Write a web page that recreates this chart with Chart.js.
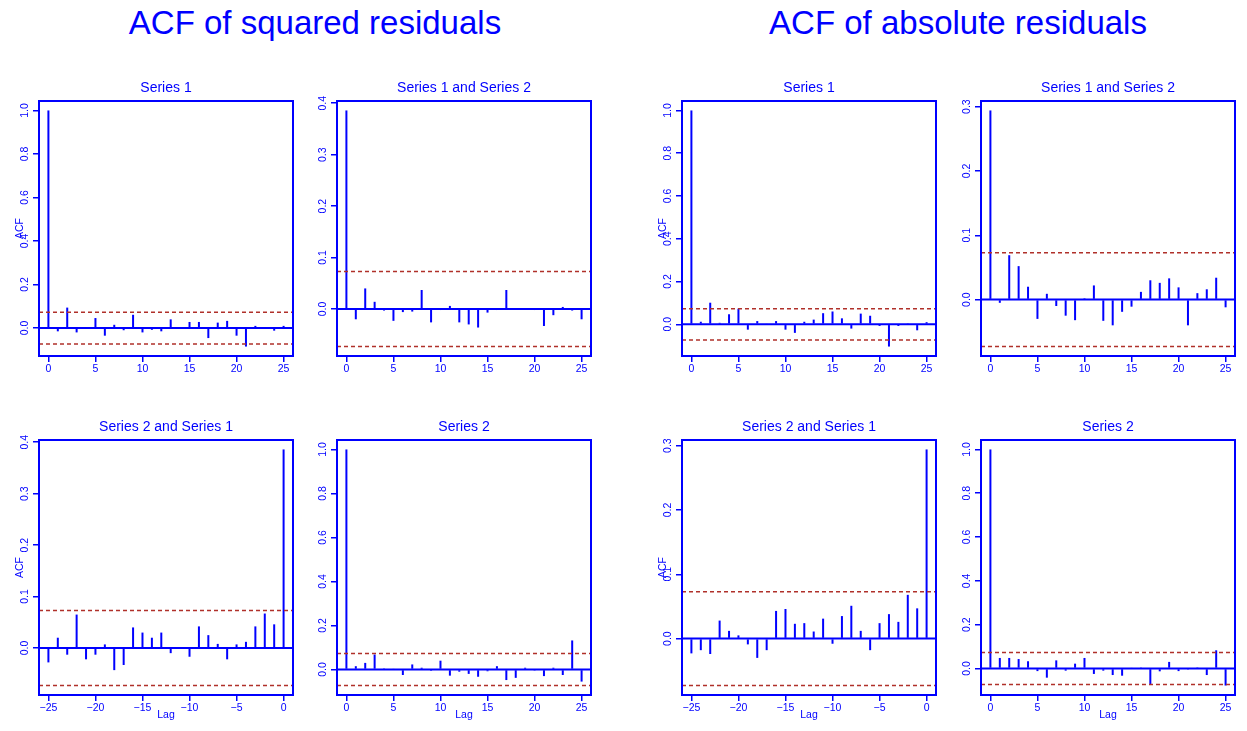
<!DOCTYPE html>
<html>
<head>
<meta charset="utf-8">
<script src="https://cdn.jsdelivr.net/npm/chart.js@4.4.1/dist/chart.umd.min.js"></script>
<style>
body { margin: 0; background: #fff; width: 1247px; height: 731px; position: relative; overflow: hidden; font-family: "Liberation Sans", Arial, sans-serif; }
.main { position: absolute; top: 6px; width: 560px; text-align: center; color: #0000ff; font-size: 33px; line-height: 33px; }
canvas { position: absolute; }
</style>
</head>
<body>
<div class="main" style="left:35px">ACF of squared residuals</div>
<div class="main" style="left:678px">ACF of absolute residuals</div>
<script>
// lags shown on the x axes
const lagsPos = [0, 1, 2, 3, 4, 5, 6, 7, 8, 9, 10, 11, 12, 13, 14, 15, 16, 17, 18, 19, 20, 21, 22, 23, 24, 25];
const lagsNeg = [-25, -24, -23, -22, -21, -20, -19, -18, -17, -16, -15, -14, -13, -12, -11, -10, -9, -8, -7, -6, -5, -4, -3, -2, -1, 0];

// ACF of squared residuals
const sqS1 = [1.0, -0.015, 0.094, -0.02, 0.003, 0.046, -0.035, 0.015, -0.01, 0.061, -0.02, -0.008, -0.015, 0.04, 0.005, 0.028, 0.028, -0.046, 0.025, 0.033, -0.035, -0.085, 0.01, 0.002, -0.012, 0.01];
const sqS1S2 = [0.386, -0.02, 0.04, 0.014, -0.003, -0.023, -0.006, -0.005, 0.037, -0.026, -0.002, 0.006, -0.026, -0.03, -0.036, -0.007, -0.002, 0.037, 0.002, 0.001, -0.002, -0.033, -0.012, 0.004, -0.003, -0.02];
const sqS2S1 = [-0.028, 0.02, -0.013, 0.065, -0.022, -0.013, 0.007, -0.043, -0.033, 0.04, 0.03, 0.02, 0.03, -0.01, 0.001, -0.017, 0.042, 0.025, 0.008, -0.022, 0.007, 0.012, 0.042, 0.067, 0.046, 0.386];
const sqS2 = [1.0, 0.015, 0.03, 0.068, 0.005, 0.003, -0.025, 0.023, 0.008, -0.006, 0.04, -0.028, -0.01, -0.02, -0.033, -0.008, 0.015, -0.048, -0.038, 0.008, -0.005, -0.03, 0.008, -0.025, 0.132, -0.055];

// ACF of absolute residuals
const absS1 = [1.0, 0.012, 0.101, 0.007, 0.047, 0.073, -0.025, 0.015, 0.003, 0.015, -0.025, -0.04, 0.012, 0.022, 0.052, 0.06, 0.028, -0.02, 0.05, 0.04, -0.008, -0.104, -0.008, 0.005, -0.028, 0.01];
const absS1S2 = [0.294, -0.005, 0.069, 0.052, 0.02, -0.03, 0.009, -0.01, -0.025, -0.032, 0.002, 0.022, -0.033, -0.04, -0.019, -0.011, 0.012, 0.03, 0.026, 0.033, 0.019, -0.04, 0.01, 0.016, 0.034, -0.012];
const absS2S1 = [-0.023, -0.018, -0.024, 0.028, 0.012, 0.005, -0.009, -0.03, -0.018, 0.043, 0.046, 0.023, 0.024, 0.011, 0.031, -0.008, 0.035, 0.051, 0.012, -0.018, 0.024, 0.038, 0.026, 0.068, 0.047, 0.294];
const absS2 = [1.0, 0.048, 0.048, 0.043, 0.033, -0.012, -0.042, 0.037, -0.01, 0.022, 0.048, -0.025, -0.01, -0.03, -0.033, 0.003, 0.002, -0.073, -0.013, 0.03, -0.012, -0.005, 0.005, -0.03, 0.083, -0.078];

// tick labels
const xTicksPos = [0, 5, 10, 15, 20, 25];
const xTicksNeg = [-25, -20, -15, -10, -5, 0];
const yTicksFull = [0, 0.2, 0.4, 0.6, 0.8, 1.0];
const yTicks04 = [0, 0.1, 0.2, 0.3, 0.4];
const yTicks03 = [0, 0.1, 0.2, 0.3];

// dashed significance bounds
const confLimit = 0.073;

const blue = "#0000ff";
const ciRed = "#b0302a";
const fontFam = '"Liberation Sans", Arial, sans-serif';

// box around the plotting region, like R's box()
const frame = {
    id: "frame",
    afterDatasetsDraw(chart) {
        const { ctx, chartArea: a } = chart;
        ctx.save();
        ctx.strokeStyle = blue;
        ctx.lineWidth = 2;
        ctx.strokeRect(a.left, a.top, a.right - a.left, a.bottom - a.top);
        ctx.restore();
    }
};

function drawPanel(boxLeft, boxTop, title, lags, values, yTicks, xTicks, showYLab, showXLab) {
    const canvas = document.createElement("canvas");
    canvas.width = 304;
    canvas.height = 315;
    canvas.style.left = (boxLeft - 40) + "px";
    canvas.style.top = (boxTop - 30) + "px";
    document.body.appendChild(canvas);

    // axis limits the way R pads them (4%)
    const lo = Math.min(...lags), hi = Math.max(...lags);
    const xMin = lo - (hi - lo) * 0.04, xMax = hi + (hi - lo) * 0.04;
    const yLo = Math.min(-confLimit, ...values), yHi = Math.max(confLimit, ...values);
    const yPad = (yHi - yLo) * 0.04;
    const refLine = (y) => [{ x: xMin, y: y }, { x: xMax, y: y }];

    const gridOpts = { display: true, drawOnChartArea: false, drawTicks: true, offset: false, tickLength: 6, color: blue, lineWidth: 1.5 };
    const tickFont = { family: fontFam, size: 10.5 };

    new Chart(canvas, {
        type: "bar",
        data: {
            datasets: [{
                type: "bar",
                data: lags.map((l, i) => ({ x: l, y: values[i] })),
                backgroundColor: blue,
                barThickness: 2,
                inflateAmount: 0,
                order: 3
            }, {
                type: "line",
                data: refLine(0),
                borderColor: blue,
                borderWidth: 2,
                pointRadius: 0,
                order: 2
            }, {
                type: "line",
                data: refLine(confLimit),
                borderColor: ciRed,
                borderWidth: 1.5,
                borderDash: [4, 3],
                pointRadius: 0,
                order: 1
            }, {
                type: "line",
                data: refLine(-confLimit),
                borderColor: ciRed,
                borderWidth: 1.5,
                borderDash: [4, 3],
                pointRadius: 0,
                order: 1
            }]
        },
        options: {
            responsive: false,
            animation: false,
            events: [],
            layout: { padding: { left: 0, right: 10, top: 0, bottom: 0 } },
            plugins: {
                legend: { display: false },
                tooltip: { enabled: false },
                title: {
                    display: true, text: title, color: blue, fullSize: false,
                    font: { family: fontFam, size: 14, weight: "normal" },
                    padding: { top: 8.6, bottom: 4.6 }
                }
            },
            scales: {
                x: {
                    type: "linear", bounds: "data", min: xMin, max: xMax, offset: false,
                    afterBuildTicks: s => { s.ticks = xTicks.map(v => ({ value: v })); },
                    afterFit: s => { s.height = 30; },
                    grid: gridOpts,
                    border: { display: false },
                    ticks: {
                        color: blue, font: tickFont, padding: 1,
                        maxRotation: 0, autoSkip: false,
                        callback: v => String(v).replace("-", "\u2212")
                    },
                    title: { display: showXLab, text: "Lag", color: blue, font: { family: fontFam, size: 10.5 }, padding: { top: 0, bottom: 4 } }
                },
                y: {
                    type: "linear", bounds: "data", min: yLo - yPad, max: yHi + yPad,
                    afterBuildTicks: s => { s.ticks = yTicks.map(v => ({ value: v })); },
                    afterFit: s => { s.width = 40; },
                    grid: gridOpts,
                    border: { display: false },
                    ticks: {
                        color: blue, font: tickFont, padding: 1,
                        minRotation: 90, maxRotation: 90, crossAlign: "center", autoSkip: false,
                        callback: v => v.toFixed(1)
                    },
                    title: { display: showYLab, text: "ACF", color: blue, font: { family: fontFam, size: 10.5 }, padding: { top: 15, bottom: 0 } }
                }
            }
        },
        plugins: [frame]
    });
}

// left block: squared residuals
drawPanel(39, 101, "Series 1", lagsPos, sqS1, yTicksFull, xTicksPos, true, false);
drawPanel(337, 101, "Series 1 and Series 2", lagsPos, sqS1S2, yTicks04, xTicksPos, false, false);
drawPanel(39, 440, "Series 2 and Series 1", lagsNeg, sqS2S1, yTicks04, xTicksNeg, true, true);
drawPanel(337, 440, "Series 2", lagsPos, sqS2, yTicksFull, xTicksPos, false, true);

// right block: absolute residuals
drawPanel(682, 101, "Series 1", lagsPos, absS1, yTicksFull, xTicksPos, true, false);
drawPanel(981, 101, "Series 1 and Series 2", lagsPos, absS1S2, yTicks03, xTicksPos, false, false);
drawPanel(682, 440, "Series 2 and Series 1", lagsNeg, absS2S1, yTicks03, xTicksNeg, true, true);
drawPanel(981, 440, "Series 2", lagsPos, absS2, yTicksFull, xTicksPos, false, true);
</script>
</body>
</html>
